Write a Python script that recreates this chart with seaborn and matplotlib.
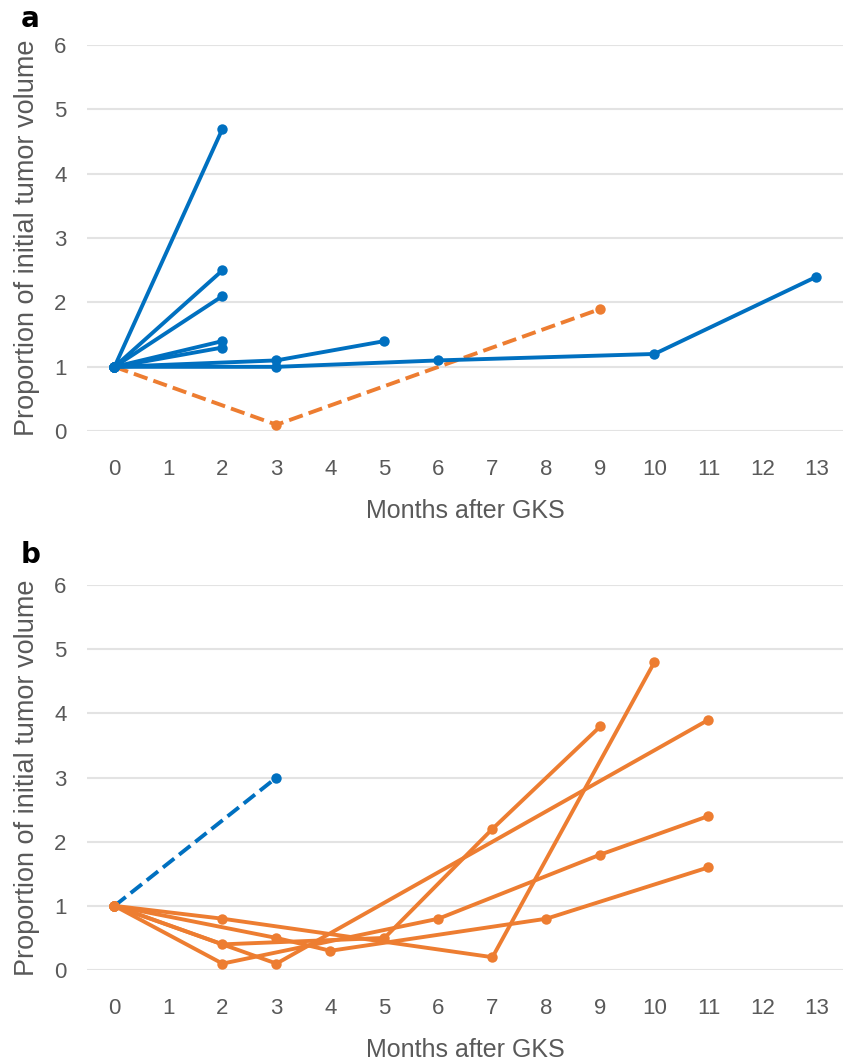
import matplotlib
matplotlib.use("Agg")
import matplotlib.pyplot as plt
import seaborn as sns
import pandas as pd

# --- dados ---
# painel a: curvas azuis (sólidas) e uma laranja tracejada
a_blue_1_x = [0, 2];  a_blue_1_y = [1, 4.7]
a_blue_2_x = [0, 2];  a_blue_2_y = [1, 2.5]
a_blue_3_x = [0, 2];  a_blue_3_y = [1, 2.1]
a_blue_4_x = [0, 2];  a_blue_4_y = [1, 1.4]
a_blue_5_x = [0, 2];  a_blue_5_y = [1, 1.3]
a_blue_6_x = [0, 3, 5];  a_blue_6_y = [1, 1.1, 1.4]
a_blue_7_x = [0, 3, 6, 10, 13];  a_blue_7_y = [1, 1.0, 1.1, 1.2, 2.4]
a_orange_dash_x = [0, 3, 9];  a_orange_dash_y = [1, 0.1, 1.9]

# painel b: curvas laranja (sólidas) e uma azul tracejada
b_orange_1_x = [0, 2, 7, 10];  b_orange_1_y = [1, 0.8, 0.2, 4.8]
b_orange_2_x = [0, 3, 11];  b_orange_2_y = [1, 0.1, 3.9]
b_orange_3_x = [0, 2, 5, 7, 9];  b_orange_3_y = [1, 0.4, 0.5, 2.2, 3.8]
b_orange_4_x = [0, 2, 6, 9, 11];  b_orange_4_y = [1, 0.1, 0.8, 1.8, 2.4]
b_orange_5_x = [0, 3, 4, 8, 11];  b_orange_5_y = [1, 0.5, 0.3, 0.8, 1.6]
b_blue_dash_x = [0, 3];  b_blue_dash_y = [1, 3.0]

x_ticks = list(range(0, 14))
y_ticks = list(range(0, 7))

AZUL = '#0070C0'
LARANJA = '#ED7D31'
CINZA = '#595959'

sns.set_theme(style="whitegrid")
plt.rcParams['font.family'] = ['Liberation Sans', 'DejaVu Sans']

fig = plt.figure(figsize=(8.47, 10.62), dpi=100)
ax_a = fig.add_axes([0.1033, 0.594, 0.8925, 0.3635])
ax_b = fig.add_axes([0.1033, 0.0866, 0.8925, 0.3625])

def desenha(ax, xs, ys, cor, tracejado=False):
    df = pd.DataFrame({'mes': xs, 'vol': ys})
    sns.lineplot(data=df, x='mes', y='vol', ax=ax, color=cor, linewidth=2.8,
                 marker='o', markersize=7.5, markeredgewidth=0,
                 linestyle='--' if tracejado else '-', clip_on=False, zorder=3)

series_a = [(a_blue_1_x, a_blue_1_y), (a_blue_2_x, a_blue_2_y), (a_blue_3_x, a_blue_3_y),
            (a_blue_4_x, a_blue_4_y), (a_blue_5_x, a_blue_5_y), (a_blue_6_x, a_blue_6_y),
            (a_blue_7_x, a_blue_7_y)]
desenha(ax_a, a_orange_dash_x, a_orange_dash_y, LARANJA, tracejado=True)
for xs, ys in series_a:
    desenha(ax_a, xs, ys, AZUL)

series_b = [(b_orange_1_x, b_orange_1_y), (b_orange_2_x, b_orange_2_y), (b_orange_3_x, b_orange_3_y),
            (b_orange_4_x, b_orange_4_y), (b_orange_5_x, b_orange_5_y)]
desenha(ax_b, b_blue_dash_x, b_blue_dash_y, AZUL, tracejado=True)
for xs, ys in series_b:
    desenha(ax_b, xs, ys, LARANJA)

for ax, letra in [(ax_a, 'a'), (ax_b, 'b')]:
    ax.set_xlim(-0.5, 13.5)
    ax.set_ylim(0, 6)
    ax.set_xticks(x_ticks)
    ax.set_yticks(y_ticks)
    ax.grid(axis='x', visible=False)
    ax.grid(axis='y', color='#E3E3E3', linewidth=1.5)
    for s in ax.spines.values():
        s.set_visible(False)
    ax.tick_params(axis='x', length=0, pad=20, labelsize=16, labelcolor=CINZA)
    ax.tick_params(axis='y', length=0, pad=15, labelsize=16, labelcolor=CINZA)
    ax.set_xlabel('Months after GKS', fontsize=18, color=CINZA, labelpad=14)
    ax.set_ylabel('Proportion of initial tumor volume', fontsize=19.5, color=CINZA, labelpad=10)
    ax.set_facecolor('white')

fig.text(0.024, 0.982, 'a', fontsize=20, fontweight='bold', color='black', va='center', ha='left', family='DejaVu Sans')
fig.text(0.024, 0.477, 'b', fontsize=20, fontweight='bold', color='black', va='center', ha='left', family='DejaVu Sans')

fig.savefig('out.png', dpi=100, facecolor='white')
